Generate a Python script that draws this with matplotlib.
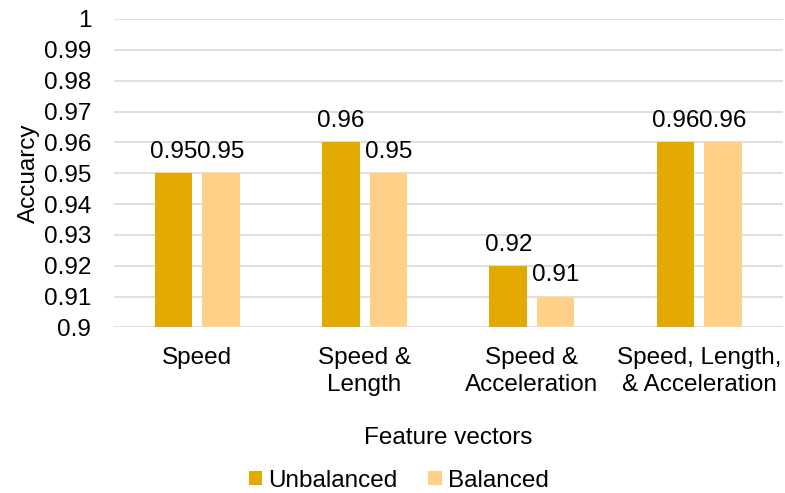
import matplotlib.pyplot as plt
import numpy as np

plt.rcParams['font.family'] = ['Liberation Sans', 'DejaVu Sans']

categories = ['Speed', 'Speed &\nLength', 'Speed &\nAcceleration', 'Speed, Length,\n& Acceleration']
unbalanced = [0.95, 0.96, 0.92, 0.96]
balanced = [0.95, 0.95, 0.91, 0.96]
yticks = [0.9, 0.91, 0.92, 0.93, 0.94, 0.95, 0.96, 0.97, 0.98, 0.99, 1.0]
ytick_labels = ['0.9', '0.91', '0.92', '0.93', '0.94', '0.95', '0.96', '0.97', '0.98', '0.99', '1']

c_unbal = '#E2A900'
c_bal = '#FFD088'
fs = 17.5

fig = plt.figure(figsize=(7.85, 4.93), dpi=100)
ax = fig.add_axes([0.1446, 0.3357, 0.8529, 0.6258])

x = np.arange(len(categories))
w = 0.224
off = 0.142
b1 = ax.bar(x - off, unbalanced, w, color=c_unbal, label='Unbalanced', zorder=3)
b2 = ax.bar(x + off, balanced, w, color=c_bal, label='Balanced', zorder=3)

for bars, vals in ((b1, unbalanced), (b2, balanced)):
    for r, v in zip(bars, vals):
        ax.text(r.get_x() + r.get_width() / 2, v + 0.0033, f'{v:g}',
                ha='center', va='bottom', fontsize=fs)

ax.set_ylim(0.9, 1.0)
ax.set_xlim(-0.5, len(categories) - 0.5)
ax.set_yticks(yticks)
ax.set_yticklabels(ytick_labels, fontsize=fs)
ax.set_xticks(x)
ax.set_xticklabels(categories, fontsize=fs, linespacing=1.32)
ax.tick_params(length=0)
ax.tick_params(axis='y', pad=16)
ax.tick_params(axis='x', pad=14)
ax.grid(axis='y', color='#D9D9D9', linewidth=1.2, zorder=0)
for s in ax.spines.values():
    s.set_visible(False)

ax.set_ylabel('Accuarcy', fontsize=fs, labelpad=3)
ax.set_xlabel('Feature vectors', fontsize=fs, labelpad=22)

fig.legend(loc='center', bbox_to_anchor=(0.508, 0.025), ncol=2, frameon=False,
           fontsize=fs, handlelength=0.55, handleheight=0.55, handletextpad=0.25,
           columnspacing=1.25)

fig.savefig('out.png', dpi=100)
